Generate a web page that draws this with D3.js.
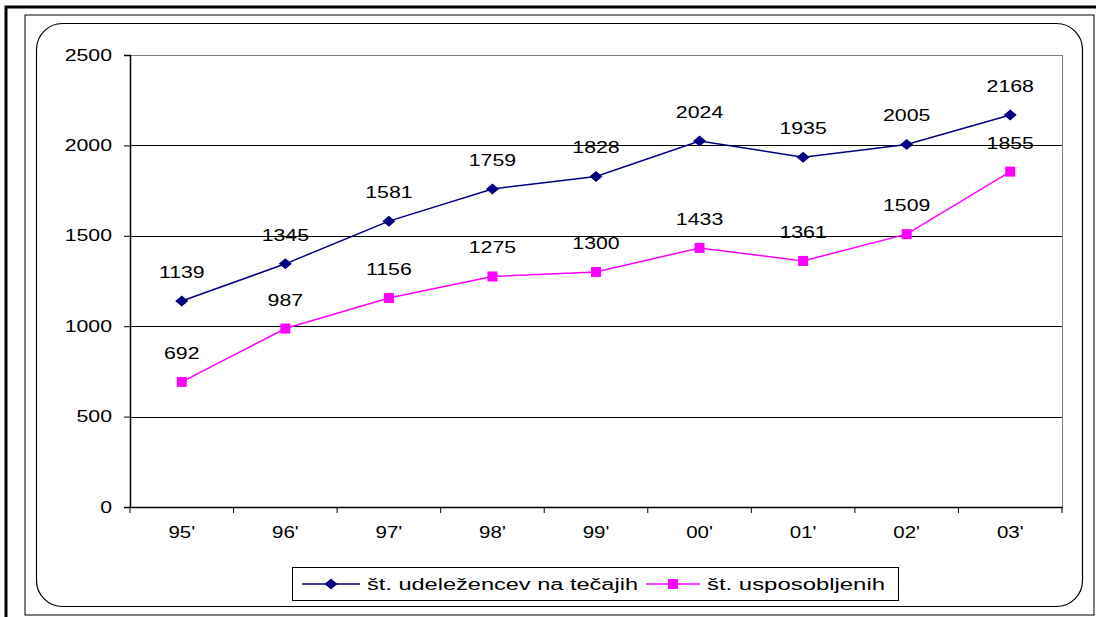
<!DOCTYPE html>
<html>
<head>
<meta charset="utf-8">
<script src="https://cdn.jsdelivr.net/npm/d3@7"></script>
<style>
body { margin: 0; background: #fff; }
text { font-family: "Liberation Sans", Arial, sans-serif; fill: #000; }
</style>
</head>
<body>
<div id="chart"></div>
<script>
var years = ["95'", "96'", "97'", "98'", "99'", "00'", "01'", "02'", "03'"]
var udelezenci = [1139, 1345, 1581, 1759, 1828, 2024, 1935, 2005, 2168]
var usposobljeni = [692, 987, 1156, 1275, 1300, 1433, 1361, 1509, 1855]
var yTicks = [0, 500, 1000, 1500, 2000, 2500]
var seriesNames = ["št. udeležencev na tečajih", "št. usposobljenih"]

var W = 1096, H = 617
var svg = d3.select("#chart").append("svg")
    .attr("width", W).attr("height", H)

// the original text is stretched wider than plain Arial
function stretch(sel, k) {
    sel.each(function() {
        var len = this.getComputedTextLength()
        d3.select(this).attr("textLength", len * k).attr("lengthAdjust", "spacingAndGlyphs")
    })
}

// frames
svg.append("path")
    .attr("d", "M6,617 L6,7 L1096,7")
    .attr("fill", "none").attr("stroke", "#000").attr("stroke-width", 3)
svg.append("rect")
    .attr("x", 25).attr("y", 15).attr("width", 1069).attr("height", 600)
    .attr("fill", "none").attr("stroke", "#000").attr("stroke-width", 1)
svg.append("rect")
    .attr("x", 36.5).attr("y", 23.5).attr("width", 1046).attr("height", 583)
    .attr("rx", 26).attr("ry", 26)
    .attr("fill", "none").attr("stroke", "#000").attr("stroke-width", 1.2)

var pLeft = 130, pRight = 1062, pTop = 55, pBottom = 507

var x = d3.scaleBand().domain(years).range([pLeft, pRight]).padding(0)
var y = d3.scaleLinear().domain([0, 2500]).range([pBottom, pTop])

// plot border (gray)
svg.append("rect")
    .attr("x", pLeft + 0.5).attr("y", pTop + 0.5).attr("width", pRight - pLeft).attr("height", pBottom - pTop)
    .attr("fill", "none").attr("stroke", "#808080").attr("stroke-width", 1)

// gridlines
svg.selectAll(".grid").data(yTicks.filter(function(d){return d > 0 && d < 2500}))
    .enter().append("line")
    .attr("class", "grid")
    .attr("x1", pLeft).attr("x2", pRight)
    .attr("y1", function(d){return Math.round(y(d)) + 0.5})
    .attr("y2", function(d){return Math.round(y(d)) + 0.5})
    .attr("stroke", "#000").attr("stroke-width", 1)

// y axis
var yAxis = d3.axisLeft(y).tickValues(yTicks).tickFormat(d3.format("d")).tickSize(6).tickPadding(12)
var gy = svg.append("g").attr("transform", "translate(" + pLeft + ",0)").call(yAxis)
gy.select(".domain").attr("stroke", "#000").attr("stroke-width", 1.5)
gy.selectAll("text").style("font-size", "16px").attr("fill", "#000")
stretch(gy.selectAll("text"), 1.33)

// x axis
var xAxis = d3.axisBottom(x).tickSize(0).tickPadding(20)
var gx = svg.append("g").attr("transform", "translate(0," + pBottom + ")").call(xAxis)
gx.select(".domain").attr("stroke", "#000").attr("stroke-width", 1.5)
gx.selectAll("text").style("font-size", "16px").attr("fill", "#000")
stretch(gx.selectAll("text"), 1.28)
var bounds = [pLeft].concat(years.map(function(d){return x(d) + x.bandwidth()}))
gx.selectAll(".sep").data(bounds).enter().append("line")
    .attr("class", "sep")
    .attr("x1", function(d){return d}).attr("x2", function(d){return d})
    .attr("y1", 0).attr("y2", 6)
    .attr("stroke", "#000")

var line = d3.line()
    .x(function(d, i){return x(years[i]) + x.bandwidth() / 2})
    .y(function(d){return y(d)})

function cx(i){ return x(years[i]) + x.bandwidth() / 2 }

// blue series
svg.append("path").datum(udelezenci)
    .attr("d", line).attr("fill", "none").attr("stroke", "#000080").attr("stroke-width", 1.5)
svg.selectAll(".dia").data(udelezenci).enter().append("path")
    .attr("class", "dia")
    .attr("transform", function(d, i){return "translate(" + cx(i) + "," + y(d) + ")"})
    .attr("d", "M0,-5.5 L6.5,0 L0,5.5 L-6.5,0 Z")
    .attr("fill", "#000080")

// pink series
svg.append("path").datum(usposobljeni)
    .attr("d", line).attr("fill", "none").attr("stroke", "#FF00FF").attr("stroke-width", 1.5)
svg.selectAll(".sq").data(usposobljeni).enter().append("rect")
    .attr("class", "sq")
    .attr("x", function(d, i){return cx(i) - 5})
    .attr("y", function(d){return y(d) - 5})
    .attr("width", 10).attr("height", 10)
    .attr("fill", "#FF00FF")

// data labels
var lblA = svg.selectAll(".lblA").data(udelezenci).enter().append("text")
    .attr("class", "lblA")
    .attr("x", function(d, i){return cx(i)})
    .attr("y", function(d){return y(d) - 23})
    .attr("text-anchor", "middle")
    .style("font-size", "16px")
    .text(function(d){return d})
var lblB = svg.selectAll(".lblB").data(usposobljeni).enter().append("text")
    .attr("class", "lblB")
    .attr("x", function(d, i){return cx(i)})
    .attr("y", function(d){return y(d) - 23})
    .attr("text-anchor", "middle")
    .style("font-size", "16px")
    .text(function(d){return d})
stretch(lblA, 1.33)
stretch(lblB, 1.33)

// legend
var lg = svg.append("g")
lg.append("rect")
    .attr("x", 292.5).attr("y", 567.5).attr("width", 606).attr("height", 33)
    .attr("fill", "#fff").attr("stroke", "#000").attr("stroke-width", 1)
lg.append("line").attr("x1", 302).attr("x2", 360).attr("y1", 584).attr("y2", 584)
    .attr("stroke", "#000080").attr("stroke-width", 1.5)
lg.append("path").attr("transform", "translate(331,584)")
    .attr("d", "M0,-5.5 L6.5,0 L0,5.5 L-6.5,0 Z").attr("fill", "#000080")
lg.append("text").attr("x", 367).attr("y", 590).style("font-size", "16px")
    .attr("textLength", 271).attr("lengthAdjust", "spacingAndGlyphs").text(seriesNames[0])
lg.append("line").attr("x1", 646).attr("x2", 700).attr("y1", 584).attr("y2", 584)
    .attr("stroke", "#FF00FF").attr("stroke-width", 1.5)
lg.append("rect").attr("x", 668).attr("y", 579).attr("width", 10).attr("height", 10)
    .attr("fill", "#FF00FF")
lg.append("text").attr("x", 707).attr("y", 590).style("font-size", "16px")
    .attr("textLength", 178).attr("lengthAdjust", "spacingAndGlyphs").text(seriesNames[1])
</script>
</body>
</html>
